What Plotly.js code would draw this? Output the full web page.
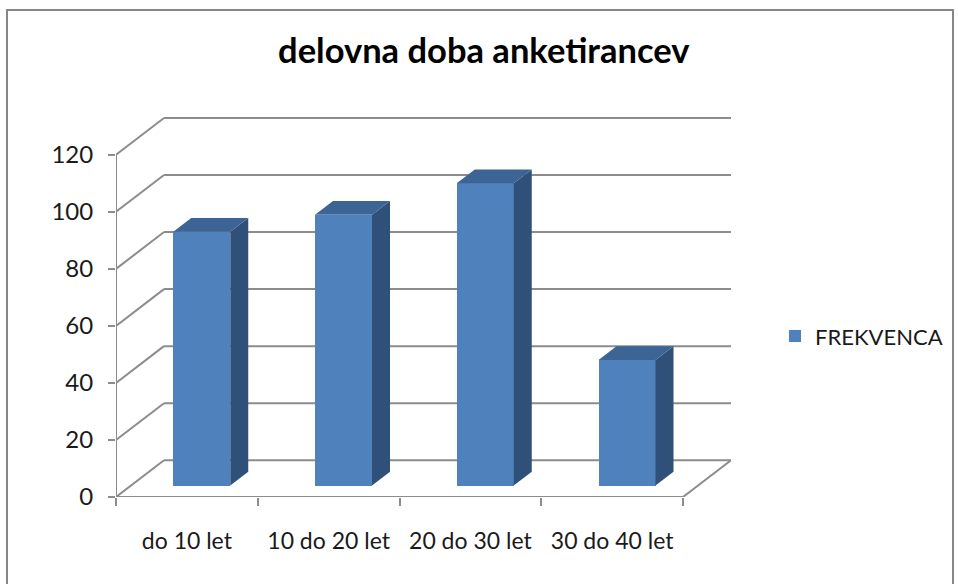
<!DOCTYPE html>
<html>
<head>
<meta charset="utf-8">
<script src="https://cdn.plot.ly/plotly-3.0.1.min.js"></script>
<style>
  html, body { margin: 0; padding: 0; background: #fff; }
  #chart { width: 958px; height: 584px; }
  #frame { position: absolute; left: 6px; top: 9px; width: 944px; height: 620px;
           border: 2px solid #878787; pointer-events: none; }
</style>
</head>
<body>
<div id="chart"></div>
<div id="frame"></div>
<script>
// ---- data ----
const categories = ['do 10 let', '10 do 20 let', '20 do 30 let', '30 do 40 let'];
const values = [89, 95, 106, 44];
const seriesName = 'FREKVENCA';
const yTicks = [0, 20, 40, 60, 80, 100, 120];
const chartTitle = 'delovna doba anketirancev';

// ---- 3D geometry (styling) ----
const DX = 0.3386;   // depth offset in category units
const DY = 12.9;     // depth offset in value units
const F1 = 0.31;     // bar front depth fraction
const F2 = 0.685;    // bar back depth fraction
const W = 0.402;     // bar width
const GRID = '#8c8c8c';
const FRONT = '#4F81BD', TOP = '#3C6596', SIDE = '#2F5079';
const FONT = 'Lato, "Open Sans", sans-serif';

const n = categories.length;
const xs = categories.map((_, i) => i);
const xMin = -0.5, xMax = n - 0.5;
const yMax = yTicks[yTicks.length - 1];

// grid / walls as shapes beneath the traces
const shapes = [];
yTicks.forEach(v => {
  shapes.push({type: 'line', xref: 'x', yref: 'y', layer: 'below',
    x0: xMin, y0: v, x1: xMin + DX, y1: v + DY, line: {color: GRID, width: 2}});
  shapes.push({type: 'line', xref: 'x', yref: 'y', layer: 'below',
    x0: xMin + DX, y0: v + DY, x1: xMax + DX, y1: v + DY, line: {color: GRID, width: 2}});
});
// floor front edge and right edge
shapes.push({type: 'line', xref: 'x', yref: 'y', layer: 'below',
  x0: xMin, y0: 0, x1: xMax, y1: 0, line: {color: GRID, width: 2}});
shapes.push({type: 'line', xref: 'x', yref: 'y', layer: 'below',
  x0: xMax, y0: 0, x1: xMax + DX, y1: DY, line: {color: GRID, width: 2}});
// vertical axis line
shapes.push({type: 'line', xref: 'x', yref: 'y', layer: 'below',
  x0: xMin, y0: 0, x1: xMin, y1: yMax, line: {color: GRID, width: 2}});

const traces = [];
// front faces: real bar trace
traces.push({
  type: 'bar', name: seriesName,
  x: xs.map(x => x + F1 * DX), y: values, base: xs.map(() => F1 * DY),
  width: W, marker: {color: FRONT, line: {width: 0}},
  hoverinfo: 'skip', showlegend: true
});
// side and top faces
xs.forEach((x, i) => {
  const v = values[i];
  const l = x - W / 2, r = x + W / 2;
  traces.push({
    type: 'scatter', mode: 'lines', fill: 'toself', fillcolor: SIDE,
    line: {width: 0, color: SIDE}, showlegend: false, hoverinfo: 'skip',
    x: [r + F1 * DX, r + F2 * DX, r + F2 * DX, r + F1 * DX, r + F1 * DX],
    y: [F1 * DY, F2 * DY, v + F2 * DY, v + F1 * DY, F1 * DY]
  });
  traces.push({
    type: 'scatter', mode: 'lines', fill: 'toself', fillcolor: TOP,
    line: {width: 0, color: TOP}, showlegend: false, hoverinfo: 'skip',
    x: [l + F1 * DX, r + F1 * DX, r + F2 * DX, l + F2 * DX, l + F1 * DX],
    y: [v + F1 * DY, v + F1 * DY, v + F2 * DY, v + F2 * DY, v + F1 * DY]
  });
});

const boundaries = [];
for (let i = 0; i <= n; i++) boundaries.push(i - 0.5);

const layout = {
  width: 958, height: 584,
  margin: {l: 116, r: 227, t: 114, b: 87, pad: 0, autoexpand: false},
  paper_bgcolor: '#fff', plot_bgcolor: 'rgba(0,0,0,0)',
  font: {family: FONT, size: 23, color: '#1a1a1a'},
  title: {text: chartTitle, xref: 'container', yref: 'container',
    x: 0.505, y: 0.912, xanchor: 'center', yanchor: 'middle',
    font: {family: FONT, size: 34.5, weight: 700, color: '#000'}},
  showlegend: true,
  legend: {x: 1.0716, y: 0.42, xanchor: 'left', yanchor: 'middle',
    font: {family: FONT, size: 22, color: '#1a1a1a'}, bgcolor: 'rgba(0,0,0,0)'},
  xaxis: {type: 'linear', range: [xMin, xMax + DX], showgrid: false, zeroline: false,
    showline: false, tickmode: 'array', tickvals: xs, ticktext: categories,
    ticks: '', ticklabelstandoff: 28, fixedrange: true, automargin: false,
    minor: {tickmode: 'array', tickvals: boundaries, ticks: 'outside', ticklen: 8,
      tickwidth: 2, tickcolor: GRID, showgrid: false}},
  yaxis: {range: [0, 134.3], showgrid: false, zeroline: false, showline: false,
    tickmode: 'array', tickvals: yTicks, ticks: 'outside', ticklen: 7,
    tickwidth: 2, tickcolor: GRID, ticklabelstandoff: 10, fixedrange: true, automargin: false,
    tickfont: {family: FONT, size: 24, color: '#1a1a1a'}},
  shapes: shapes,
  bargap: 0
};

Plotly.newPlot('chart', traces, layout, {displayModeBar: false, staticPlot: true});
</script>
</body>
</html>
